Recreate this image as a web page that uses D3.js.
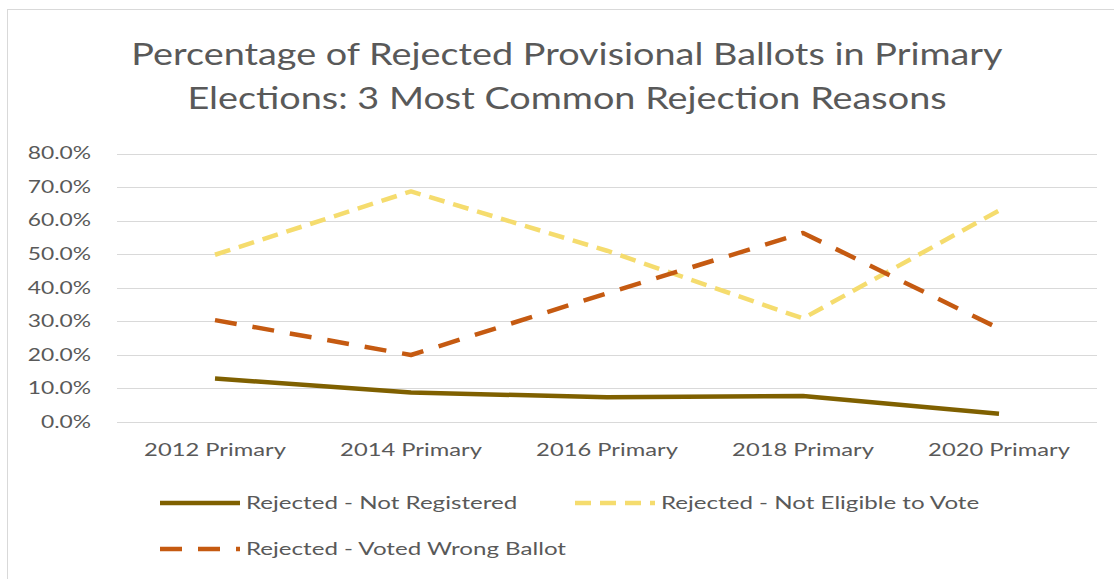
<!DOCTYPE html>
<html><head><meta charset="utf-8">
<script src="https://cdn.jsdelivr.net/npm/d3@7"></script>
<style>body{margin:0;background:#fff}svg{display:block}text{font-family:Lato,"Open Sans",sans-serif}</style>
</head><body><svg id="c" width="1114" height="579"></svg>
<script>
const categories = ["2012 Primary","2014 Primary","2016 Primary","2018 Primary","2020 Primary"];
const notRegistered = [12.9, 8.7, 7.3, 7.7, 2.4];
const notEligible = [49.8, 68.7, 51.0, 30.8, 63.0];
const wrongBallot = [30.3, 19.9, 38.3, 56.3, 27.8];
const yTicks = [0,10,20,30,40,50,60,70,80];
const titleLines = ["Percentage of Rejected Provisional Ballots in Primary","Elections: 3 Most Common Rejection Reasons"];
const seriesNames = ["Rejected - Not Registered","Rejected - Not Eligible to Vote","Rejected - Voted Wrong Ballot"];

const svg = d3.select("#c");
svg.append("rect").attr("x",7.5).attr("y",9.5).attr("width",1120).attr("height",600)
  .attr("fill","#fff").attr("stroke","#d9d9d9");

const x = d3.scaleBand().domain(categories).range([117,1097]);
const y = d3.scaleLinear().domain([0,80]).range([421.7,153.5]);

// horizontal stretch around each text's anchor x
function stretch(sel, f){
  sel.each(function(){
    const t = d3.select(this);
    const ax = +t.attr("x") || 0;
    t.attr("transform", `translate(${ax},0) scale(${f},1) translate(${-ax},0)`);
  });
}

const grid = svg.append("g");
grid.selectAll("line").data(yTicks).join("line")
  .attr("x1",117).attr("x2",1097)
  .attr("y1",d=>Math.round(y(d))+0.5).attr("y2",d=>Math.round(y(d))+0.5)
  .attr("stroke","#d9d9d9").attr("stroke-width",1);

const yAxis = svg.append("g").attr("transform","translate(91,0)")
  .call(d3.axisLeft(y).tickValues(yTicks).tickSize(0).tickPadding(0).tickFormat(d=>d.toFixed(1)+"%"));
yAxis.select(".domain").remove();
yAxis.selectAll("text").attr("fill","#595959").style("font-size","17px").style("font-family","Lato");
stretch(yAxis.selectAll("text"), 1.34);

const xAxis = svg.append("g").attr("transform","translate(0,443)")
  .call(d3.axisBottom(x).tickSize(0).tickPadding(0));
xAxis.select(".domain").remove();
xAxis.selectAll("text").attr("fill","#595959").style("font-size","18px").style("font-family","Lato").attr("dy","0.71em");
stretch(xAxis.selectAll("text"), 1.32);

const series = [
  {name:seriesNames[0], values:notRegistered, color:"#7f6000", dash:null},
  {name:seriesNames[1], values:notEligible, color:"#f5dc6e", dash:"16,9"},
  {name:seriesNames[2], values:wrongBallot, color:"#c55a11", dash:"22,16"}
];
const line = d3.line().x((d,i)=>x(categories[i])+x.bandwidth()/2).y(d=>y(d));
series.forEach(s=>{
  svg.append("path").datum(s.values).attr("d",line).attr("fill","none")
    .attr("stroke",s.color).attr("stroke-width",4.5)
    .attr("stroke-dasharray",s.dash).attr("stroke-linejoin","round");
});

const title = svg.append("g");
titleLines.forEach((t,i)=>title.append("text").attr("x",567).attr("y",65+i*44)
  .attr("text-anchor","middle").attr("fill","#595959").style("font-size","31px").text(t));
stretch(title.selectAll("text"), 1.22);

const legendPos = [[160,503],[575,503],[160,549]];
series.forEach((s,i)=>{
  const [lx,ly] = legendPos[i];
  svg.append("line").attr("x1",lx).attr("x2",lx+80).attr("y1",ly).attr("y2",ly)
    .attr("stroke",s.color).attr("stroke-width",4.5).attr("stroke-dasharray",s.dash);
  const t = svg.append("text").attr("x",lx+86).attr("y",ly).attr("dy","0.35em")
    .attr("fill","#595959").style("font-size","17px").text(s.name);
  stretch(t, 1.42);
});
</script></body></html>
